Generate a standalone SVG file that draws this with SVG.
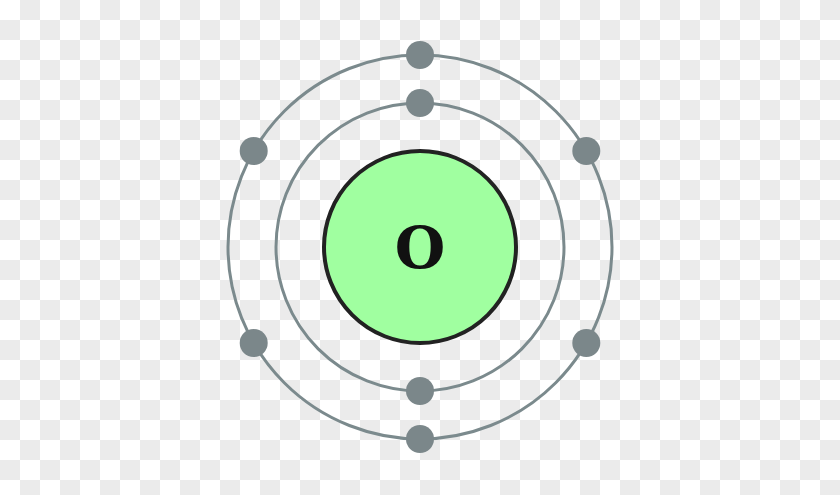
<svg xmlns="http://www.w3.org/2000/svg" width="840" height="495" viewBox="0 0 840 495">
<defs>
<pattern id="checker" x="0" y="0" width="40" height="40" patternUnits="userSpaceOnUse">
<rect width="40" height="40" fill="#ffffff"/>
<rect x="20" y="0" width="20" height="20" fill="#ebebeb"/>
<rect x="0" y="20" width="20" height="20" fill="#ebebeb"/>
</pattern>
<style>
.orbit{fill:none;stroke:#7b8a8d;stroke-width:3}
.electron{fill:#7b878a}
.nucleus{fill:#a0ffa0;stroke:#222222;stroke-width:4}
.label{font-family:"DejaVu Serif","Liberation Serif",serif;font-weight:bold;font-size:58px;fill:#111111;text-anchor:middle}
</style>
</defs>
<rect width="840" height="495" fill="url(#checker)"/>
<g id="orbits">
<circle class="orbit" cx="420" cy="247" r="144"/>
<circle class="orbit" cx="420" cy="247" r="192"/>
</g>
<g id="nucleus">
<circle class="nucleus" cx="420" cy="247" r="96"/>
<text class="label" x="420" y="268">O</text>
</g>
<g id="electrons-inner">
<circle class="electron" cx="420" cy="103" r="14"/>
<circle class="electron" cx="420" cy="391" r="14"/>
</g>
<g id="electrons-outer">
<circle class="electron" cx="420" cy="55" r="14"/>
<circle class="electron" cx="586.3" cy="151" r="14"/>
<circle class="electron" cx="586.3" cy="343" r="14"/>
<circle class="electron" cx="420" cy="439" r="14"/>
<circle class="electron" cx="253.7" cy="343" r="14"/>
<circle class="electron" cx="253.7" cy="151" r="14"/>
</g>
</svg>
